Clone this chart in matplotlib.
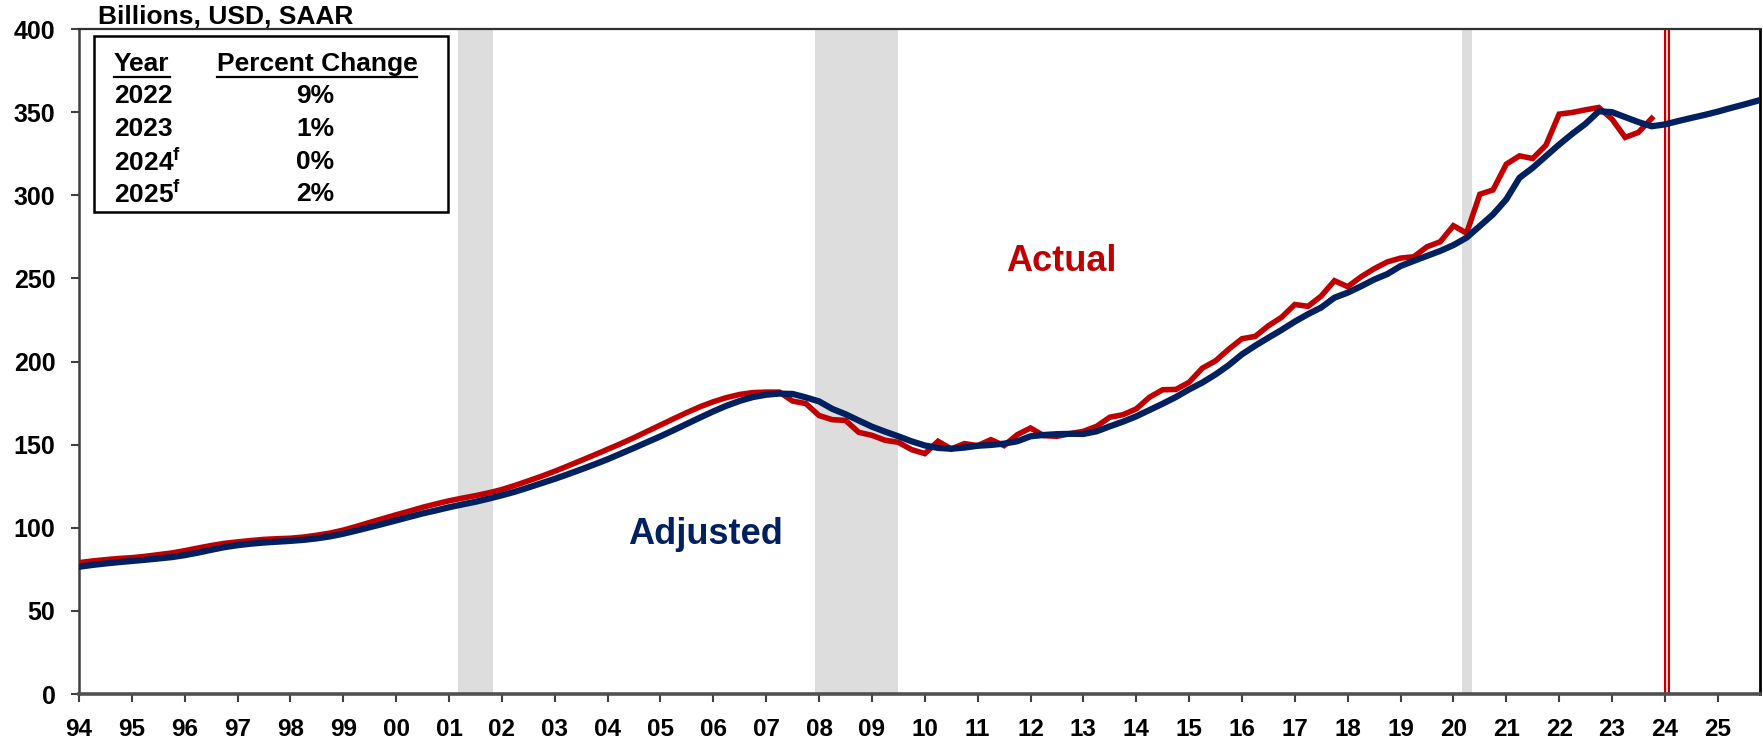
import matplotlib
matplotlib.use("Agg")
import matplotlib.pyplot as plt
import numpy as np
from matplotlib.patches import Rectangle
from matplotlib.lines import Line2D

plt.rcParams['font.family'] = ['Liberation Sans', 'DejaVu Sans']
plt.rcParams['font.weight'] = 'bold'
plt.rcParams['mathtext.fontset'] = 'custom'
plt.rcParams['mathtext.rm'] = 'Liberation Sans:bold'
plt.rcParams['mathtext.bf'] = 'Liberation Sans:bold'

# ---------------- data (quarterly, Billions USD SAAR) ----------------
start_year = 1994
adjusted = [
    76.5, 77.6, 78.5, 79.3,      # 1994
    80.0, 80.7, 81.5, 82.3,      # 1995
    83.5, 85.0, 86.7, 88.3,      # 1996
    89.5, 90.4, 91.1, 91.6,      # 1997
    92.1, 92.7, 93.6, 94.8,      # 1998
    96.4, 98.3, 100.3, 102.3,    # 1999
    104.4, 106.5, 108.6, 110.4,  # 2000
    112.3, 114.0, 115.6, 117.5,  # 2001
    119.5, 121.7, 124.2, 126.8,  # 2002
    129.4, 132.2, 135.1, 138.1,  # 2003
    141.2, 144.6, 148.0, 151.5,  # 2004
    155.0, 158.7, 162.5, 166.3,  # 2005
    170.0, 173.4, 176.3, 178.6,  # 2006
    180.0, 180.7, 180.5, 178.4,  # 2007
    176.0, 171.5, 168.3, 164.5,  # 2008
    160.8, 157.8, 155.0, 152.0,  # 2009
    149.5, 148.0, 147.5, 148.2,  # 2010
    149.3, 149.8, 150.6, 152.0,  # 2011
    155.0, 155.8, 156.3, 156.5,  # 2012
    156.4, 158.0, 161.0, 163.8,  # 2013
    167.0, 170.8, 174.6, 178.6,  # 2014
    183.2, 187.3, 192.2, 197.8,  # 2015
    204.3, 209.5, 214.3, 219.0,  # 2016
    224.0, 228.5, 232.5, 238.4,  # 2017
    241.4, 245.2, 249.3, 252.6,  # 2018
    257.4, 260.5, 263.5, 266.5,  # 2019
    270.0, 274.5, 281.5, 288.5,  # 2020
    297.5, 310.5, 316.5, 323.5,  # 2021
    330.5, 337.0, 343.0, 350.5,  # 2022
    350.0, 347.0, 344.0, 341.5,  # 2023
    342.6, 344.6, 346.5, 348.3,  # 2024 (forecast)
    350.3, 352.5, 354.6, 356.8,  # 2025 (forecast)
]
actual = [
    79.0, 80.0, 80.8, 81.5,      # 1994
    82.0, 82.8, 83.8, 84.8,      # 1995
    86.2, 87.8, 89.3, 90.6,      # 1996
    91.5, 92.3, 93.0, 93.4,      # 1997
    93.7, 94.4, 95.5, 96.8,      # 1998
    98.6, 100.8, 103.2, 105.5,   # 1999
    107.8, 110.0, 112.3, 114.3,  # 2000
    116.2, 117.8, 119.3, 121.0,  # 2001
    123.0, 125.5, 128.2, 131.0,  # 2002
    134.0, 137.2, 140.5, 143.8,  # 2003
    147.2, 150.6, 154.2, 158.0,  # 2004
    161.8, 165.6, 169.3, 172.8,  # 2005
    175.8, 178.3, 180.2, 181.3,  # 2006
    181.6, 181.6, 176.2, 174.7,  # 2007
    167.5, 165.0, 164.6, 157.4,  # 2008
    155.6, 152.6, 151.4, 147.0,  # 2009
    144.6, 152.0, 147.4, 150.6,  # 2010
    149.4, 153.0, 149.4, 156.0,  # 2011
    160.0, 155.4, 155.0, 156.6,  # 2012
    158.0, 161.0, 166.5, 168.0,  # 2013
    171.5, 178.5, 183.0, 183.2,  # 2014
    187.5, 196.0, 200.4, 207.4,  # 2015
    213.7, 215.1, 221.5, 226.6,  # 2016
    234.3, 233.2, 239.4, 248.6,  # 2017
    245.0, 250.9, 255.8, 259.9,  # 2018
    262.2, 263.0, 269.0, 272.0,  # 2019
    281.7, 277.2, 300.6, 303.2,  # 2020
    318.7, 323.7, 322.1, 330.1,  # 2021
    348.8, 349.8, 351.4, 352.8,  # 2022
    345.8, 334.8, 337.8, 346.2,  # 2023
]
recessions = [(2001.17, 2001.83), (2007.92, 2009.50), (2020.17, 2020.35)]
forecast_start = 2024.0
tick_years = list(range(1994, 2026))
tick_labels = [f"{y % 100:02d}" for y in tick_years]
y_ticks = [0, 50, 100, 150, 200, 250, 300, 350, 400]

table_years = ["2022", "2023", "2024$^{\\mathregular{f}}$", "2025$^{\\mathregular{f}}$"]
table_pct = ["9%", "1%", "0%", "2%"]

RED = "#C00000"
NAVY = "#002060"

x_adj = start_year + np.arange(len(adjusted)) / 4.0
x_act = start_year + np.arange(len(actual)) / 4.0

W, H = 1763, 739
fig = plt.figure(figsize=(W / 100, H / 100), dpi=100)
ax = fig.add_axes([79 / W, 1 - 694 / H, (1760 - 79) / W, (694 - 29) / H])

for a, b in recessions:
    ax.axvspan(a, b, color="#DDDDDD", lw=0, zorder=0)
ax.axvspan(forecast_start, forecast_start + 0.08, facecolor="#F4D0D0",
           edgecolor=RED, lw=1.5, zorder=1)

ax.plot(x_act, actual, color=RED, lw=4.0, zorder=3, solid_joinstyle='miter')
ax.plot(x_adj, adjusted, color=NAVY, lw=4.5, zorder=4, solid_joinstyle='miter')

ax.set_xlim(1994.0, 2025.8)
ax.set_ylim(0, 400)
ax.set_xticks(tick_years)
ax.set_xticklabels(tick_labels, fontsize=17.5, fontweight='bold')
ax.set_yticks(y_ticks)
ax.set_yticklabels([str(v) for v in y_ticks], fontsize=18, fontweight='bold')
ax.tick_params(axis='x', direction='out', length=5.5, width=1.5, color='#404040', pad=12)
ax.tick_params(axis='y', direction='out', length=6, width=1.5, color='#404040', pad=11)

ax.spines['left'].set_color('#404040')
ax.spines['left'].set_linewidth(1.8)
ax.spines['bottom'].set_color('#505050')
ax.spines['bottom'].set_linewidth(2.6)
ax.spines['top'].set_color('#303030')
ax.spines['top'].set_linewidth(1.6)
ax.spines['right'].set_color('black')
ax.spines['right'].set_linewidth(2.0)

ax.text(2012.58, 260, "Actual", color=RED, fontsize=26, fontweight='bold',
        ha='center', va='center')
ax.text(2005.86, 96, "Adjusted", color=NAVY, fontsize=26, fontweight='bold',
        ha='center', va='center')

fig.text(98 / W, 1 - 17 / H, "Billions, USD, SAAR", fontsize=19,
         fontweight='bold', ha='left', va='center')

# table box
box = Rectangle((94 / W, 1 - 212 / H), (448 - 94) / W, (212 - 36) / H,
                transform=fig.transFigure, facecolor='white', edgecolor='black',
                lw=1.8, zorder=5)
fig.patches.append(box)

hy = 1 - 64 / H
t1 = fig.text(114 / W, hy, "Year", fontsize=19, fontweight='bold',
              ha='left', va='center', zorder=6)
t2 = fig.text(317 / W, hy, "Percent Change", fontsize=19, fontweight='bold',
              ha='center', va='center', zorder=6)
row_y = [96, 129, 162, 194]
for yl, pc, ry in zip(table_years, table_pct, row_y):
    fig.text(114 / W, 1 - ry / H, yl, fontsize=19, fontweight='bold',
             ha='left', va='center', zorder=6)
    fig.text(315 / W, 1 - ry / H, pc, fontsize=19, fontweight='bold',
             ha='center', va='center', zorder=6)

fig.canvas.draw()
r = fig.canvas.get_renderer()
for t in (t1, t2):
    bb = t.get_window_extent(renderer=r)
    uy = 1 - 77 / H
    fig.add_artist(Line2D([bb.x0 / W, bb.x1 / W], [uy, uy],
                          transform=fig.transFigure, color='black', lw=1.6,
                          zorder=6))

fig.savefig("out.png", dpi=100, facecolor='white')
